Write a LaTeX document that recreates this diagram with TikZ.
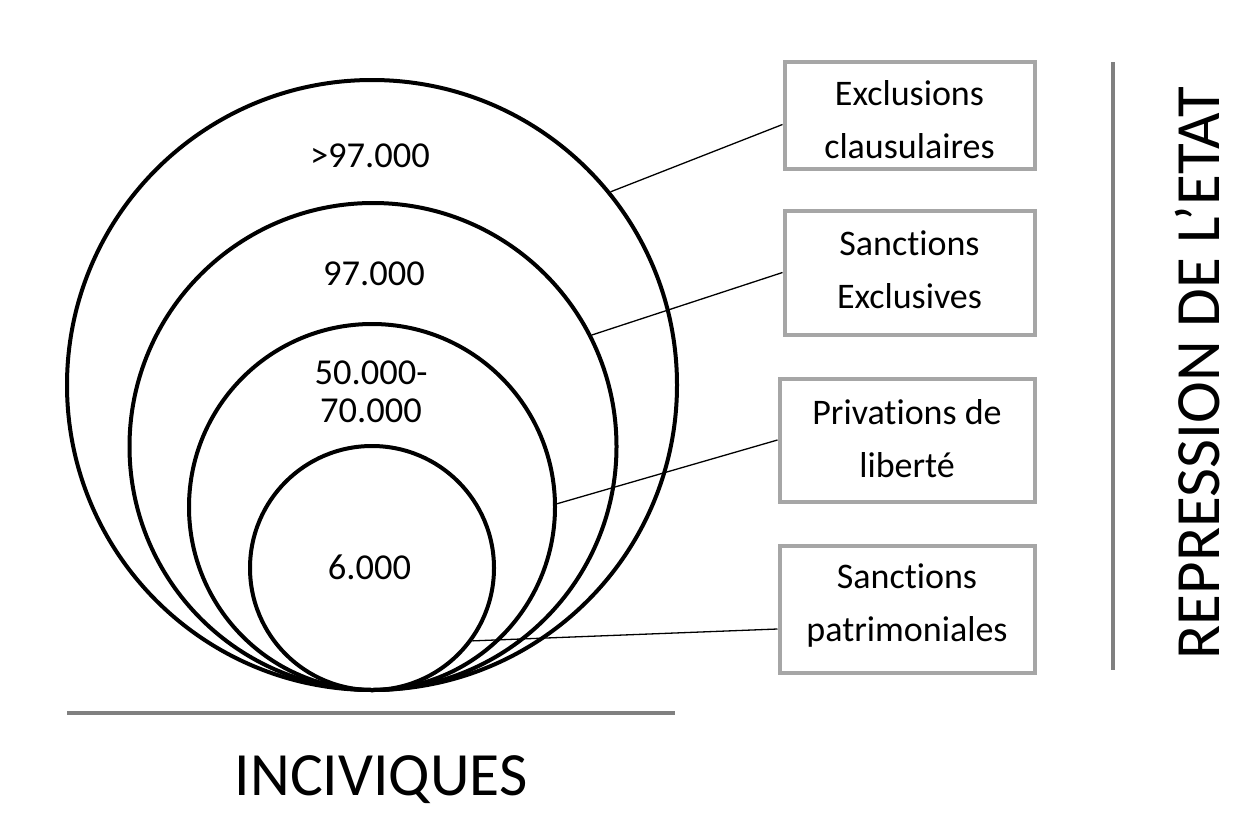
\documentclass[tikz,border=0pt]{standalone}
\usepackage{fontspec}
\setmainfont{Carlito}[Ligatures={NoCommon},RawFeature={-liga;-clig;-dlig}]
\definecolor{boxgray}{RGB}{166,166,166}
\definecolor{axisgray}{RGB}{128,128,128}
\begin{document}
\begin{tikzpicture}[x=1pt,y=-1pt,
  ring/.style={circle,draw=black,line width=4pt,inner sep=0pt},
  lbl/.style={font=\fontsize{36.5}{38}\selectfont,inner sep=0pt},
  catbox/.style={draw=boxgray,line width=4pt,inner sep=0pt,rectangle},
  cattext/.style={font=\fontsize{36}{53}\selectfont,inner sep=0pt},
  conn/.style={draw=black,line width=1.3pt},
  axisline/.style={draw=axisgray,line width=4pt},
  bigtext/.style={font=\fontsize{61.5}{70}\selectfont,inner sep=0pt}]
\useasboundingbox (0,0) rectangle (1250,817);
% circles
\node[ring,minimum size=610pt] (c1) at (372,385) {};
\node[ring,minimum size=487pt] (c2) at (373,446.5) {};
\node[ring,minimum size=366pt] (c3) at (372,507) {};
\node[ring,minimum size=244pt] (c4) at (372,568) {};
% circle labels
\node[lbl] (l1) at (370,156) {>97.000};
\node[lbl] (l2) at (374,274) {97.000};
\node[lbl] (l3) at (371,396) {\begin{tabular}{@{}c@{}}50.000-\\70.000\end{tabular}};
\node[lbl] (l4) at (369.5,567) {6.000};
% boxes
\node[catbox,minimum width=250pt,minimum height=107pt] (b1) at (909.5,115) {};
\node[catbox,minimum width=250pt,minimum height=124pt] (b2) at (909.5,272.5) {};
\node[catbox,minimum width=255pt,minimum height=123pt] (b3) at (907,440) {};
\node[catbox,minimum width=255pt,minimum height=127pt] (b4) at (907,609) {};
\node[cattext] (t1) at ([yshift=-6pt]b1.center) {\begin{tabular}{@{}c@{}}Exclusions\\clausulaires\end{tabular}};
\node[cattext] (t2) at ([yshift=1pt]b2.center) {\begin{tabular}{@{}c@{}}Sanctions\\Exclusives\end{tabular}};
\node[cattext] (t3) at ([yshift=0pt]b3.center) {\begin{tabular}{@{}c@{}}Privations de\\liberté\end{tabular}};
\node[cattext] (t4) at ([yshift=5pt]b4.center) {\begin{tabular}{@{}c@{}}Sanctions\\patrimoniales\end{tabular}};
% connectors
\draw[conn] (c1.39.3) -- ([yshift=-9.5pt]b1.west);
\draw[conn] (c2.27) -- (b2.west);
\draw[conn] (c3.1.6) -- (b3.west);
\draw[conn] (c4.-36.6) -- ([yshift=-20pt]b4.west);
% axes
\coordinate (hx1) at (67,713);
\coordinate (hx2) at (675,713);
\draw[axisline] (hx1) -- (hx2);
\coordinate (vy1) at (1113,62);
\coordinate (vy2) at (1113,670);
\draw[axisline] (vy1) -- (vy2);
\node[bigtext,anchor=base] (inc) at (381,795) {INCIVIQUES};
\node[bigtext,rotate=90,font=\fontsize{63}{70}\selectfont] (rep) at (1197,373) {REPRESSION DE L’ETAT};
\end{tikzpicture}
\end{document}
